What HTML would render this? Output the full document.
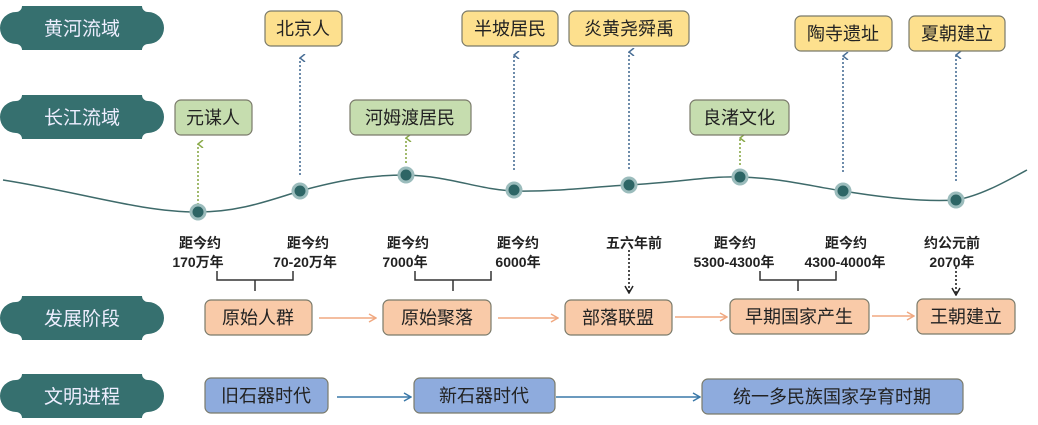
<!DOCTYPE html>
<html><head><meta charset="utf-8"><style>
body{margin:0;background:#fff}
svg{display:block}
text{font-family:"Liberation Sans","Noto Sans CJK SC",sans-serif}
.d{font-family:"Liberation Serif","Noto Serif CJK SC",serif;font-weight:bold;font-size:14px;fill:#222}
</style></head><body>
<svg width="1038" height="425" viewBox="0 0 1038 425" xmlns="http://www.w3.org/2000/svg">
<defs>
<marker id="ab" markerWidth="8" markerHeight="8" refX="4" refY="1" orient="auto-start-reverse" markerUnits="userSpaceOnUse"><path d="M0,6 L4,1 L8,6" fill="none" stroke="#4a6f96" stroke-width="1.5"/></marker>
<marker id="ag" markerWidth="8" markerHeight="8" refX="4" refY="1" orient="auto-start-reverse" markerUnits="userSpaceOnUse"><path d="M0,6 L4,1 L8,6" fill="none" stroke="#8aaa4a" stroke-width="1.5"/></marker>
<marker id="ak" markerWidth="10" markerHeight="10" refX="9" refY="5" orient="auto" markerUnits="userSpaceOnUse"><path d="M2,1 L9,5 L2,9" fill="none" stroke="#222" stroke-width="1.5"/></marker>
<marker id="ao" markerWidth="10" markerHeight="10" refX="9" refY="5" orient="auto" markerUnits="userSpaceOnUse"><path d="M2,1 L9,5 L2,9" fill="none" stroke="#f0a880" stroke-width="1.5"/></marker>
<marker id="abl" markerWidth="10" markerHeight="10" refX="9" refY="5" orient="auto" markerUnits="userSpaceOnUse"><path d="M2,1 L9,5 L2,9" fill="none" stroke="#3a78a8" stroke-width="1.5"/></marker>
<g id="ban"><path d="M22,0 H142 a6,6 0 0 0 6,6 a8,8 0 0 1 0,32 a6,6 0 0 0 -6,6 H22 a6,6 0 0 0 -6,-6 a8,8 0 0 1 0,-32 a6,6 0 0 0 6,-6 Z" fill="#36706f"/></g>
</defs>
<g transform="translate(0,6)"><use href="#ban"/><text x="82" y="29" font-size="19" fill="#eef" text-anchor="middle">黄河流域</text></g>
<g transform="translate(0,95)"><use href="#ban"/><text x="82" y="29" font-size="19" fill="#eef" text-anchor="middle">长江流域</text></g>
<g transform="translate(0,296)"><use href="#ban"/><text x="82" y="29" font-size="19" fill="#eef" text-anchor="middle">发展阶段</text></g>
<g transform="translate(0,374)"><use href="#ban"/><text x="82" y="29" font-size="19" fill="#eef" text-anchor="middle">文明进程</text></g>

<path d="M3,180 C80,192 140,212 198,212 C240,212 270,200 300,191 C340,180 370,175 406,175 C450,176 480,190 514,191 C560,192 600,186 629,185 C680,182 710,176 740,177 C780,178 810,186 843,191 C880,197 920,202 956,200 C980,196 1005,182 1027,170" fill="none" stroke="#3e6a6a" stroke-width="1.5"/>

<g stroke-dasharray="2,2" stroke-width="1.6" fill="none">
<line x1="198" y1="205" x2="198" y2="144" stroke="#8aaa4a" marker-end="url(#ag)"/>
<line x1="300" y1="175" x2="300" y2="58" stroke="#4a6f96" marker-end="url(#ab)"/>
<line x1="406" y1="163" x2="406" y2="138" stroke="#8aaa4a" marker-end="url(#ag)"/>
<line x1="514" y1="170" x2="514" y2="55" stroke="#4a6f96" marker-end="url(#ab)"/>
<line x1="629" y1="169" x2="629" y2="52" stroke="#4a6f96" marker-end="url(#ab)"/>
<line x1="740" y1="165" x2="740" y2="138" stroke="#8aaa4a" marker-end="url(#ag)"/>
<line x1="843" y1="172" x2="843" y2="56" stroke="#4a6f96" marker-end="url(#ab)"/>
<line x1="956" y1="181" x2="956" y2="55" stroke="#4a6f96" marker-end="url(#ab)"/>
<line x1="629" y1="250" x2="629" y2="293" stroke="#222" stroke-dasharray="2,2" marker-end="url(#ak)"/>
<line x1="956" y1="267" x2="956" y2="295" stroke="#222" stroke-dasharray="2,2" marker-end="url(#ak)"/>
</g>

<g fill="#2d6565" stroke="#9bbcbc" stroke-width="3">
<circle cx="198" cy="212" r="7"/><circle cx="300" cy="191" r="7"/><circle cx="406" cy="175" r="7"/><circle cx="514" cy="190" r="7"/><circle cx="629" cy="185" r="7"/><circle cx="740" cy="177" r="7"/><circle cx="843" cy="191" r="7"/><circle cx="956" cy="200" r="7"/>
</g>

<g stroke="#7a7a6a" stroke-width="1.2" font-size="18">
<rect x="265" y="11" width="77" height="35" rx="6" fill="#fde08e"/>
<rect x="462" y="11" width="96" height="35" rx="6" fill="#fde08e"/>
<rect x="569" y="11" width="120" height="35" rx="6" fill="#fde08e"/>
<rect x="795" y="16" width="97" height="35" rx="6" fill="#fde08e"/>
<rect x="909" y="16" width="96" height="35" rx="6" fill="#fde08e"/>
<rect x="175" y="100" width="77" height="35" rx="6" fill="#c6ddaf"/>
<rect x="350" y="100" width="121" height="35" rx="6" fill="#c6ddaf"/>
<rect x="690" y="100" width="99" height="35" rx="6" fill="#c6ddaf"/>
<rect x="205" y="300" width="107" height="35" rx="6" fill="#f9caa8"/>
<rect x="383" y="300" width="108" height="35" rx="6" fill="#f9caa8"/>
<rect x="565" y="300" width="107" height="35" rx="6" fill="#f9caa8"/>
<rect x="730" y="299" width="139" height="35" rx="6" fill="#f9caa8"/>
<rect x="917" y="299" width="98" height="35" rx="6" fill="#f9caa8"/>
<rect x="205" y="378" width="123" height="35" rx="6" fill="#8eabdd"/>
<rect x="414" y="378" width="141" height="35" rx="6" fill="#8eabdd"/>
<rect x="702" y="379" width="261" height="35" rx="6" fill="#8eabdd"/>
</g>
<g font-size="18" fill="#222" text-anchor="middle">
<text x="303" y="35">北京人</text><text x="510" y="35">半坡居民</text><text x="629" y="35">炎黄尧舜禹</text><text x="843" y="40">陶寺遗址</text><text x="957" y="40">夏朝建立</text>
<text x="213" y="124">元谋人</text><text x="410" y="124">河姆渡居民</text><text x="739" y="124">良渚文化</text>
<text x="258" y="324">原始人群</text><text x="437" y="324">原始聚落</text><text x="618" y="324">部落联盟</text><text x="799" y="323">早期国家产生</text><text x="966" y="323">王朝建立</text>
<text x="266" y="402">旧石器时代</text><text x="484" y="402">新石器时代</text><text x="832" y="403">统一多民族国家孕育时期</text>
</g>

<g class="d" text-anchor="middle">
<text x="200" y="248">距今约</text><text x="198" y="267">170万年</text>
<text x="308" y="248">距今约</text><text x="305" y="267">70-20万年</text>
<text x="408" y="248">距今约</text><text x="405" y="267">7000年</text>
<text x="518" y="248">距今约</text><text x="518" y="267">6000年</text>
<text x="634" y="248">五六年前</text>
<text x="735" y="248">距今约</text><text x="734" y="267">5300-4300年</text>
<text x="846" y="248">距今约</text><text x="845" y="267">4300-4000年</text>
<text x="952" y="248">约公元前</text><text x="952" y="267">2070年</text>
</g>

<g fill="none" stroke="#333" stroke-width="1.5">
<path d="M217,271 V280 H293 V271 M255,280 V291"/>
<path d="M415,271 V280 H491 V271 M453,280 V291"/>
<path d="M760,271 V280 H836 V271 M798,280 V291"/>
</g>
<g stroke-width="1.5">
<line x1="319" y1="318" x2="376" y2="318" stroke="#f0a880" marker-end="url(#ao)"/>
<line x1="498" y1="318" x2="558" y2="318" stroke="#f0a880" marker-end="url(#ao)"/>
<line x1="675" y1="317" x2="727" y2="317" stroke="#f0a880" marker-end="url(#ao)"/>
<line x1="872" y1="316" x2="914" y2="316" stroke="#f0a880" marker-end="url(#ao)"/>
<line x1="337" y1="397" x2="411" y2="397" stroke="#3a78a8" marker-end="url(#abl)"/>
<line x1="556" y1="397" x2="700" y2="397" stroke="#3a78a8" marker-end="url(#abl)"/>
</g>
</svg>
</body></html>
